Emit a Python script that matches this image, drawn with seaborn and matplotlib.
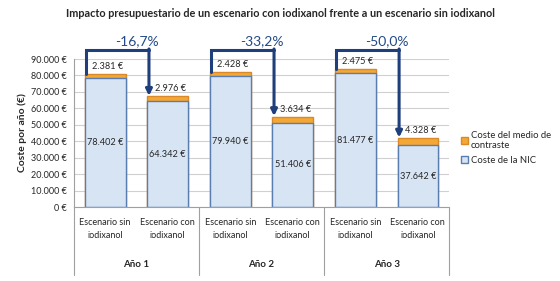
import pandas as pd
import matplotlib
matplotlib.use("Agg")
import matplotlib.pyplot as plt
import seaborn as sns

# datos
escenarios = ["Escenario sin\niodixanol", "Escenario con\niodixanol"] * 3
anios = ["Año 1", "Año 2", "Año 3"]
coste_nic = [78402, 64342, 79940, 51406, 81477, 37642]
coste_contraste = [2381, 2976, 2428, 3634, 2475, 4328]
reduccion = ["-16,7%", "-33,2%", "-50,0%"]
yticks = [0, 10000, 20000, 30000, 40000, 50000, 60000, 70000, 80000, 90000]


def euros(v):
    return f"{v:,.0f} €".replace(",", ".")


df = pd.DataFrame({
    "barra": [f"b{i}" for i in range(6)],
    "nic": coste_nic,
    "contraste": coste_contraste,
})
df["total"] = df["nic"] + df["contraste"]

sns.set_style("white")
plt.rcParams["font.family"] = ["Lato", "DejaVu Sans"]

fig = plt.figure(figsize=(5.6, 2.81), dpi=100)
ax = fig.add_axes([0.132, 0.263, 0.670, 0.527])

azul_borde = "#5A7DB0"
sns.barplot(data=df, x="barra", y="total", color="#F5A733", edgecolor="#D9892A",
            linewidth=1.0, width=0.65, saturation=1, ax=ax, label="Coste del medio de\ncontraste")
sns.barplot(data=df, x="barra", y="nic", color="#D7E4F4", edgecolor=azul_borde,
            linewidth=1.0, width=0.65, saturation=1, ax=ax, label="Coste de la NIC")

ax.set_ylim(0, 90000)
ax.set_xlim(-0.5, 5.5)
ax.set_yticks(yticks)
ax.set_yticklabels([euros(v) for v in yticks], fontsize=6.5)
ax.yaxis.grid(True, color="#D0D0D0", linewidth=0.8)
ax.set_axisbelow(True)
for s in ["top", "right"]:
    ax.spines[s].set_visible(False)
ax.spines["left"].set_color("#A0A0A0")
ax.spines["bottom"].set_color("#A0A0A0")
ax.tick_params(axis="y", length=3, color="#A0A0A0", pad=2)
ax.set_xticks(range(6))
ax.set_xticklabels(escenarios, fontsize=6.5, linespacing=1.5)
ax.tick_params(axis="x", length=0, pad=8)
ax.set_xlabel("")
ax.set_ylabel("Coste por año (€)", fontsize=7.5, fontweight="bold", labelpad=3)

# etiquetas de valores
for i in range(6):
    ax.text(i, coste_nic[i] / 2, euros(coste_nic[i]), ha="center", va="center", fontsize=6.6)
    ax.text(i + 0.04, df["total"][i] + 1800, euros(coste_contraste[i]), ha="center",
            va="bottom", fontsize=6.6)

# flechas de reduccion
trans = ax.get_xaxis_transform()
for k in range(3):
    i = 2 * k
    x0 = i - 0.31
    x1 = i + 1 - 0.30
    ytop = 95500
    ax.plot([x0, x0, x1], [df["total"][i], ytop, ytop], color="#1F3E7C",
            linewidth=2.2, clip_on=False, solid_joinstyle="miter", zorder=5)
    ax.annotate("", xy=(x1, df["total"][i + 1] + 300), xytext=(x1, ytop + 600),
                arrowprops=dict(arrowstyle="-|>", color="#1F3E7C", lw=2.2,
                                mutation_scale=9, shrinkA=0, shrinkB=0),
                annotation_clip=False, zorder=5)
    ax.text(i + 0.5, 100800, reduccion[k], ha="center", va="center", fontsize=10,
            color="#234A87", clip_on=False)

# separadores y etiquetas de año
for xs in [-0.5, 1.5, 3.5, 5.5]:
    ax.plot([xs, xs], [0, -0.46], transform=trans, color="#A0A0A0", linewidth=0.8,
            clip_on=False)
for k, a in enumerate(anios):
    ax.text(2 * k + 0.5, -0.39, a, transform=trans, ha="center", va="center",
            fontsize=7, fontweight="bold")

ax.legend(loc="center left", bbox_to_anchor=(1.01, 0.40), frameon=False, fontsize=6.8,
          handlelength=0.7, handleheight=0.7, handletextpad=0.3, labelspacing=0.6)

fig.suptitle("Impacto presupuestario de un escenario con iodixanol frente a un escenario sin iodixanol",
             x=0.5, y=0.97, fontsize=7.8, fontweight="bold")

fig.savefig("out.png", dpi=100)
